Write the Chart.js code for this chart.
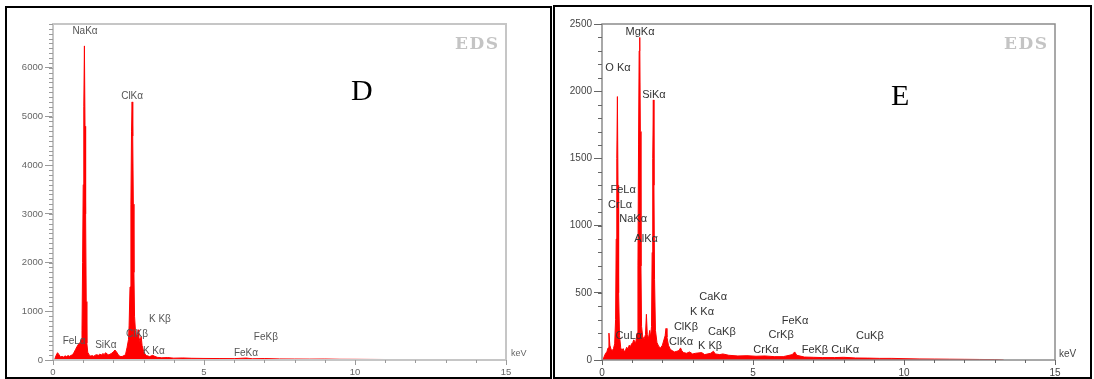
<!DOCTYPE html>
<html lang="en">
<head>
<meta charset="UTF-8">
<title>EDS spectra D and E</title>
<script src="https://cdn.jsdelivr.net/npm/chart.js"></script>
<style>
  * { margin: 0; padding: 0; box-sizing: border-box; }
  body {
    width: 1094px;
    height: 379px;
    background: #fff;
    position: relative;
    overflow: hidden;
    font-family: Arial, "Liberation Sans", sans-serif;
  }
  .panel { position: absolute; border: 2px solid #000; }
  #panelD { left: 5px; top: 6px; width: 547px; height: 373px; }
  #panelE { left: 553px; top: 5px; width: 539px; height: 374px; }
  canvas { position: absolute; }
  #chartD { left: 8px; top: 8px; filter: blur(0.5px); }
  #chartE { left: 556px; top: 8px; }
  .eds {
    position: absolute;
    font-family: "DejaVu Serif", serif;
    font-weight: bold;
    font-size: 17px;
    letter-spacing: 1.5px;
    color: #c4c4c4;
  }
  .tag {
    position: absolute;
    font-family: "Liberation Serif", "Times New Roman", serif;
    font-size: 30px;
    color: #000;
  }
  .unit { position: absolute; font-size: 10px; color: #444; }
</style>
</head>
<body>
<div class="panel" id="panelD"></div>
<div class="panel" id="panelE"></div>

<canvas id="chartD" width="540" height="371"></canvas>
<canvas id="chartE" width="536" height="371"></canvas>

<div class="eds" style="left:455px; top:33px;">EDS</div>
<div class="eds" style="left:1004px; top:33px;">EDS</div>
<div class="tag" style="left:351px; top:73px;">D</div>
<div class="tag" style="left:891px; top:78px;">E</div>
<div class="unit" style="left:511px; top:348px; font-size:9px; color:#666;">keV</div>
<div class="unit" style="left:1059px; top:348px;">keV</div>

<script>
// ---- spectrum D ----
const dEnergy = [
  0.05, 0.10, 0.15, 0.20, 0.25, 0.30, 0.35, 0.40, 0.45, 0.50, 0.55, 0.60, 0.65,
  0.70, 0.75, 0.80, 0.85, 0.90, 0.94, 0.96, 0.98, 1.00, 1.02, 1.04, 1.06, 1.08,
  1.10, 1.12, 1.15, 1.20, 1.25, 1.30, 1.35, 1.40, 1.45, 1.50, 1.55, 1.60, 1.65,
  1.70, 1.74, 1.80, 1.85, 1.90, 1.95, 2.00, 2.05, 2.10, 2.15, 2.20, 2.25, 2.30,
  2.35, 2.40, 2.45, 2.50, 2.52, 2.55, 2.58, 2.60, 2.62, 2.64, 2.66, 2.68, 2.70,
  2.73, 2.76, 2.80, 2.82, 2.84, 2.88, 2.92, 2.95, 3.00, 3.05, 3.10, 3.20, 3.30,
  3.35, 3.45, 3.6, 3.8, 4.0, 4.3, 4.6, 5.0, 5.5, 6.0, 6.4, 6.6, 7.0, 7.5, 8.0,
  8.5, 9.0, 9.5, 10.0, 10.5, 11.0, 11.5, 12.0, 12.5
];
const dCounts = [
  0, 90, 150, 110, 60, 75, 60, 85, 70, 90, 75, 95, 110,
  160, 220, 280, 330, 360, 420, 600, 2000, 3600, 5200, 6450, 4800, 3000,
  1200, 350, 160, 100, 80, 90, 75, 100, 110, 95, 120, 105, 130,
  115, 150, 120, 105, 125, 140, 170, 205, 170, 120, 80, 70, 75,
  90, 110, 250, 420, 700, 1500, 3200, 4700, 5300, 4600, 3200, 1800, 900,
  600, 500, 520, 620, 480, 380, 480, 300, 180, 120, 90, 70, 95,
  80, 55, 45, 50, 38, 42, 35, 32, 30, 28, 40, 25, 30, 22, 20,
  18, 20, 15, 14, 12, 10, 8, 4, 0
];
const dLabelText = ['NaKα', 'ClKα', 'FeLα', 'SiKα', 'ClKβ', 'K Kβ', 'K Kα', 'FeKα', 'FeKβ'];
const dLabelKeV = [1.06, 2.62, 0.70, 1.75, 2.78, 3.54, 3.34, 6.39, 7.05];
const dLabelCounts = [6750, 5410, 390, 310, 535, 845, 185, 145, 475];
const dYTicks = [0, 1000, 2000, 3000, 4000, 5000, 6000];

// ---- spectrum E ----
const eEnergy = [
  0.03, 0.08, 0.12, 0.16, 0.20, 0.23, 0.26, 0.30, 0.34, 0.38, 0.42, 0.45, 0.47,
  0.49, 0.51, 0.53, 0.55, 0.58, 0.62, 0.66, 0.70, 0.74, 0.78, 0.82, 0.86, 0.90,
  0.94, 0.98, 1.02, 1.05, 1.08, 1.12, 1.16, 1.19, 1.21, 1.23, 1.25, 1.27, 1.29,
  1.31, 1.35, 1.40, 1.44, 1.47, 1.50, 1.54, 1.58, 1.61, 1.64, 1.66, 1.68, 1.70,
  1.72, 1.74, 1.77, 1.82, 1.88, 1.94, 2.00, 2.05, 2.09, 2.12, 2.15, 2.20, 2.26,
  2.32, 2.40, 2.48, 2.55, 2.60, 2.64, 2.70, 2.80, 2.90, 3.00, 3.10, 3.30, 3.40,
  3.60, 3.69, 3.75, 3.90, 4.00, 4.20, 4.5, 4.8, 5.1, 5.4, 5.7, 6.0, 6.3, 6.38,
  6.45, 6.7, 7.0, 7.3, 7.7, 8.0, 8.4, 8.8, 9.2, 9.6, 10.0, 10.5, 11.0, 11.5,
  12.0, 12.5, 13.0, 13.3
];
const eCounts = [
  0, 30, 50, 60, 90, 200, 110, 80, 70, 85, 120, 300, 900,
  1500, 1960, 1300, 500, 180, 90, 70, 85, 60, 75, 95, 80, 110,
  100, 120, 130, 150, 140, 130, 200, 700, 1600, 2300, 2400, 1700, 700,
  250, 170, 160, 190, 340, 190, 160, 220, 170, 250, 800, 1500, 1935,
  1300, 600, 220, 130, 100, 90, 110, 150, 180, 235, 170, 110, 80,
  70, 60, 65, 70, 90, 70, 55, 50, 60, 45, 50, 55, 40,
  50, 65, 45, 40, 45, 35, 30, 32, 28, 30, 25, 25, 40, 60,
  35, 22, 20, 18, 18, 20, 15, 14, 12, 12, 10, 8, 7, 6,
  5, 4, 3, 0
];
const eLabelText = [
  'MgKα', 'O Kα', 'SiKα', 'FeLα', 'CrLα', 'NaKα', 'AlKα', 'CaKα', 'K Kα', 'ClKβ',
  'CaKβ', 'CuLα', 'ClKα', 'K Kβ', 'CrKα', 'CrKβ', 'FeKα', 'FeKβ', 'CuKα', 'CuKβ'
];
const eLabelKeV = [
  1.26, 0.53, 1.72, 0.70, 0.60, 1.03, 1.46, 3.68, 3.31, 2.78,
  3.97, 0.89, 2.62, 3.58, 5.43, 5.93, 6.39, 7.05, 8.05, 8.87
];
const eLabelCounts = [
  2440, 2173, 1972, 1265, 1153, 1049, 900, 469, 357, 246,
  208, 179, 134, 104, 74, 186, 290, 74, 74, 179
];
const eYTicks = [0, 500, 1000, 1500, 2000, 2500];

const xTicks = [0, 5, 10, 15];

function toPoints(xs, ys) {
  return xs.map((x, i) => ({ x: x, y: ys[i] }));
}

// frame, minor ruler ticks and peak names
const edsDecor = {
  id: 'edsDecor',
  afterDatasetsDraw(chart, args, o) {
    const ctx = chart.ctx;
    const a = chart.chartArea;
    const sx = chart.scales.x, sy = chart.scales.y;
    ctx.save();
    ctx.strokeStyle = o.frameColor;
    ctx.lineWidth = o.frameWidth;
    ctx.strokeRect(a.left, a.top, a.right - a.left, a.bottom - a.top);

    ctx.lineWidth = 1;
    ctx.strokeStyle = o.tickColor;
    ctx.beginPath();
    for (let v = sy.min; v <= sy.max; v += o.yMinor) {
      const y = Math.round(sy.getPixelForValue(v)) + 0.5;
      ctx.moveTo(a.left - 4, y);
      ctx.lineTo(a.left, y);
    }
    for (let v = sx.min; v <= sx.max; v += o.xMinor) {
      const x = Math.round(sx.getPixelForValue(v)) + 0.5;
      ctx.moveTo(x, a.bottom);
      ctx.lineTo(x, a.bottom + 3);
    }
    ctx.stroke();

    ctx.fillStyle = o.labelColor;
    ctx.font = o.labelFont;
    ctx.textAlign = 'center';
    ctx.textBaseline = 'middle';
    o.text.forEach((t, i) => {
      ctx.fillText(t, sx.getPixelForValue(o.keV[i]), sy.getPixelForValue(o.counts[i]));
    });
    ctx.restore();
  }
};

function makeChart(id, energy, counts, yMax, yTicks, axisWidth, padRight, look) {
  return new Chart(document.getElementById(id), {
    type: 'line',
    data: {
      datasets: [{
        data: toPoints(energy, counts),
        borderColor: '#ff0000',
        backgroundColor: '#ff0000',
        borderWidth: 1,
        borderJoinStyle: 'bevel',
        fill: 'origin',
        pointRadius: 0,
        tension: 0
      }]
    },
    options: {
      responsive: false,
      animation: false,
      layout: { padding: { left: 0, right: padRight, top: 16, bottom: 0 } },
      plugins: {
        legend: { display: false },
        tooltip: { enabled: false },
        edsDecor: look
      },
      scales: {
        x: {
          type: 'linear',
          min: 0,
          max: 15,
          afterBuildTicks: s => { s.ticks = xTicks.map(v => ({ value: v })); },
          afterFit: s => { s.height = 19; },
          border: { display: false },
          grid: { drawOnChartArea: false, tickLength: 5, tickColor: look.tickColor },
          ticks: {
            padding: 2, maxRotation: 0, color: look.numColor,
            font: { size: look.numSize, family: 'Arial' },
            callback: v => String(v)
          }
        },
        y: {
          type: 'linear',
          min: 0,
          max: yMax,
          afterBuildTicks: s => { s.ticks = yTicks.map(v => ({ value: v })); },
          afterFit: s => { s.width = axisWidth; },
          border: { display: false },
          grid: { drawOnChartArea: false, tickLength: 8, tickColor: look.tickColor },
          ticks: {
            padding: 2, color: look.numColor,
            font: { size: look.numSize, family: 'Arial' },
            callback: v => String(v)
          }
        }
      }
    },
    plugins: [edsDecor]
  });
}

makeChart('chartD', dEnergy, dCounts, 6900, dYTicks, 45, 42, {
  frameColor: '#c6c6c6', frameWidth: 2, tickColor: '#9a9a9a',
  xMinor: 1, yMinor: 100,
  numColor: '#666', numSize: 9.5,
  labelColor: '#555', labelFont: '10px Arial',
  text: dLabelText, keV: dLabelKeV, counts: dLabelCounts
});

makeChart('chartE', eEnergy, eCounts, 2500, eYTicks, 46, 37, {
  frameColor: '#8c8c8c', frameWidth: 1.5, tickColor: '#666',
  xMinor: 1, yMinor: 100,
  numColor: '#444', numSize: 10,
  labelColor: '#333', labelFont: '11px Arial',
  text: eLabelText, keV: eLabelKeV, counts: eLabelCounts
});
</script>
</body>
</html>
